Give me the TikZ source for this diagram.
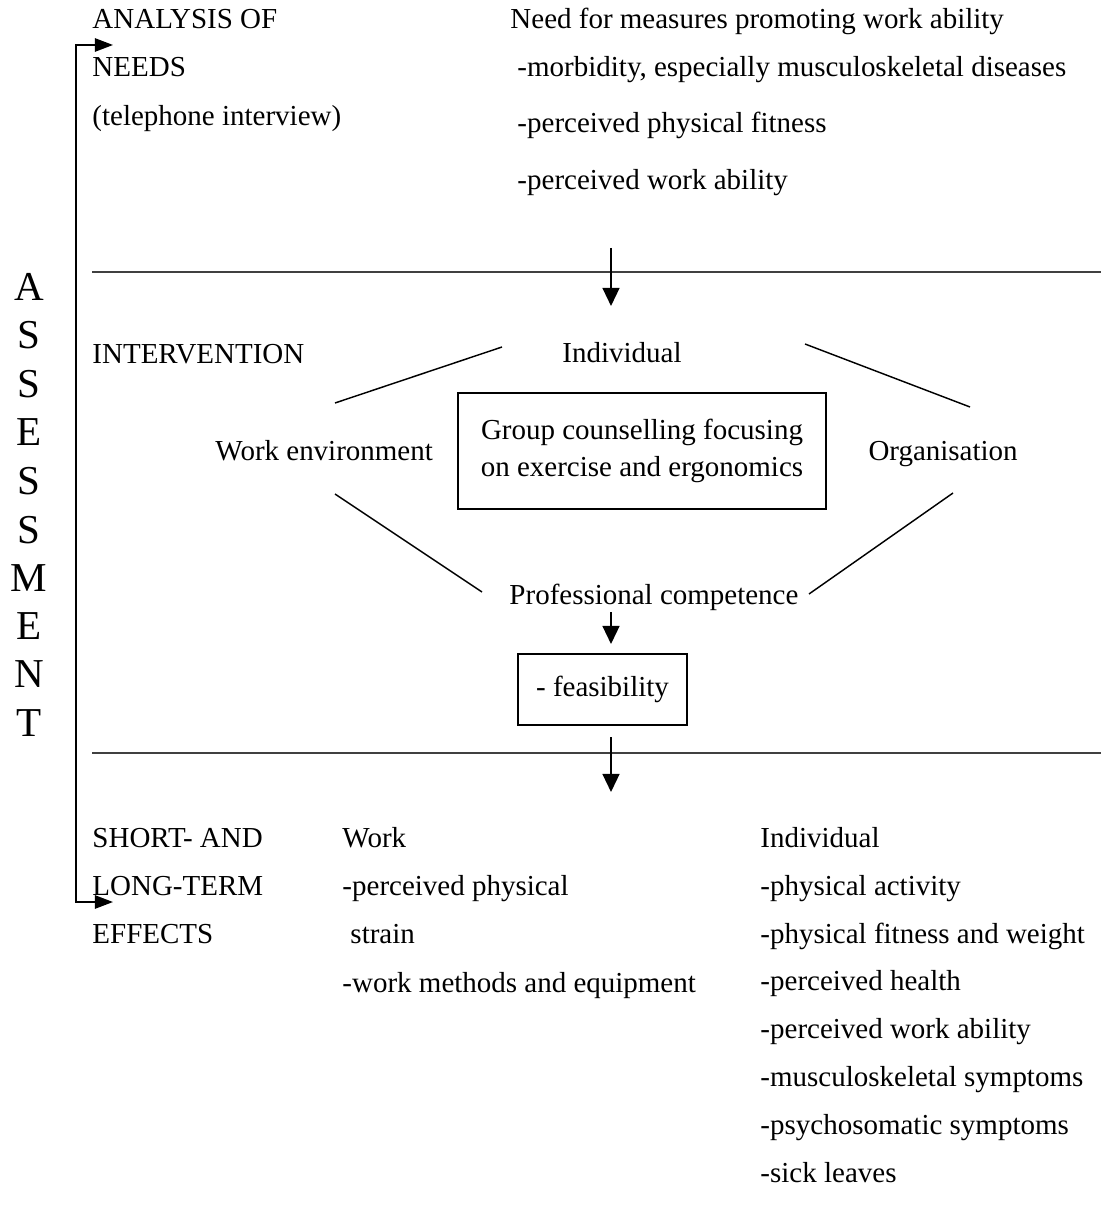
\documentclass[tikz,border=0pt]{standalone}
\usepackage{fontspec}
\setmainfont{Liberation Serif}
\usetikzlibrary{arrows.meta}

\tikzset{
    txt/.style={anchor=base west, inner sep=0pt, font=\fontsize{12}{14}\selectfont},
    letter/.style={anchor=base, inner sep=0pt, font=\fontsize{17}{20}\selectfont},
    arr/.style={line width=0.8pt, -{Triangle[length=7.5pt, width=7pt]}},
    bracket/.style={line width=0.8pt, {Triangle[length=7.5pt, width=5.5pt]}-{Triangle[length=7.5pt, width=5.5pt]}},
    rule/.style={line width=0.75pt, black!75},
    spoke/.style={line width=0.6pt},
    box/.style={draw, line width=0.7pt, inner sep=0pt, align=center, font=\fontsize{12}{15.3}\selectfont}
}

\begin{document}
\begin{tikzpicture}[x=0.414pt, y=-0.414pt]
    \useasboundingbox (0, 0) rectangle (1101, 1232);
    % vertical word on the left
    \node[letter] (as1) at(29, 301) {A};
    \node[letter] (as2) at(29, 349) {S};
    \node[letter] (as3) at(29, 398) {S};
    \node[letter] (as4) at(29, 446) {E};
    \node[letter] (as5) at(29, 494) {S};
    \node[letter] (as6) at(29, 543) {S};
    \node[letter] (as7) at(29, 591) {M};
    \node[letter] (as8) at(29, 639) {E};
    \node[letter] (as9) at(29, 687) {N};
    \node[letter] (as10) at(29, 736) {T};
    \coordinate (brtip1) at(113, 45);
    \coordinate (brtop) at(76, 45);
    \coordinate (brbot) at(76, 902);
    \coordinate (brtip2) at(113, 902);
    \draw[bracket] (brtip1) -- (brtop) -- (brbot) -- (brtip2);
    % analysis of needs
    \node[txt] (anl1) at(92, 29) {ANALYSIS OF};
    \node[txt] (anl2) at(92, 77) {NEEDS};
    \node[txt] (anl3) at(92, 126) {(telephone interview)};
    \node[txt] (need0) at(510, 29) {Need for measures promoting work ability};
    \node[txt] (need1) at(517, 77) {-morbidity, especially musculoskeletal diseases};
    \node[txt] (need2) at(517, 133) {-perceived physical fitness};
    \node[txt] (need3) at(517, 190) {-perceived work ability};
    \coordinate (rule1a) at(92, 272);
    \coordinate (rule1b) at(1101, 272);
    \draw[rule] (rule1a) -- (rule1b);
    \coordinate (arr1a) at(611, 248);
    \coordinate (arr1b) at(611, 306);
    \draw[arr] (arr1a) -- (arr1b);
    % intervention
    \node[txt] (intv) at(92, 364) {INTERVENTION};
    \node[txt] (indiv) at(562, 363) {Individual};
    \node[txt] (workenv) at(215, 460) {Work environment};
    \node[txt] (organ) at(868, 460) {Organisation};
    \node[txt] (profcomp) at(509, 604) {Professional competence};
    \node[box, minimum width=152.4pt, minimum height=48pt] (group) at(642, 451)
        {Group counselling focusing\\on exercise and ergonomics};
    \node[box, minimum width=70pt, minimum height=29.4pt] (feas) at(602.5, 689.5)
        {- feasibility};
    \coordinate (sp1a) at(335, 403);
    \coordinate (sp1b) at(502, 347);
    \coordinate (sp2a) at(805, 344);
    \coordinate (sp2b) at(970, 407);
    \coordinate (sp3a) at(335, 494);
    \coordinate (sp3b) at(482, 592);
    \coordinate (sp4a) at(809, 594);
    \coordinate (sp4b) at(953, 493);
    \draw[spoke] (sp1a) -- (sp1b);
    \draw[spoke] (sp2a) -- (sp2b);
    \draw[spoke] (sp3a) -- (sp3b);
    \draw[spoke] (sp4a) -- (sp4b);
    \coordinate (arr2a) at(611, 612);
    \coordinate (arr2b) at(611, 644);
    \draw[arr] (arr2a) -- (arr2b);
    \coordinate (rule2a) at(92, 753);
    \coordinate (rule2b) at(1101, 753);
    \draw[rule] (rule2a) -- (rule2b);
    \coordinate (arr3a) at(611, 737);
    \coordinate (arr3b) at(611, 792);
    \draw[arr] (arr3a) -- (arr3b);
    % effects
    \node[txt] (eff1) at(92, 847) {SHORT- AND};
    \node[txt] (eff2) at(92, 895) {LONG-TERM};
    \node[txt] (eff3) at(92, 943) {EFFECTS};
    \node[txt] (work0) at(342, 847) {Work};
    \node[txt] (work1) at(342, 895) {-perceived physical};
    \node[txt] (work2) at(350, 943) {strain};
    \node[txt] (work3) at(342, 992) {-work methods and equipment};
    \node[txt] (ind0) at(760, 847) {Individual};
    \node[txt] (ind1) at(760, 895) {-physical activity};
    \node[txt] (ind2) at(760, 943) {-physical fitness and weight};
    \node[txt] (ind3) at(760, 990) {-perceived health};
    \node[txt] (ind4) at(760, 1038) {-perceived work ability};
    \node[txt] (ind5) at(760, 1086) {-musculoskeletal symptoms};
    \node[txt] (ind6) at(760, 1134) {-psychosomatic symptoms};
    \node[txt] (ind7) at(760, 1182) {-sick leaves};
\end{tikzpicture}
\end{document}
